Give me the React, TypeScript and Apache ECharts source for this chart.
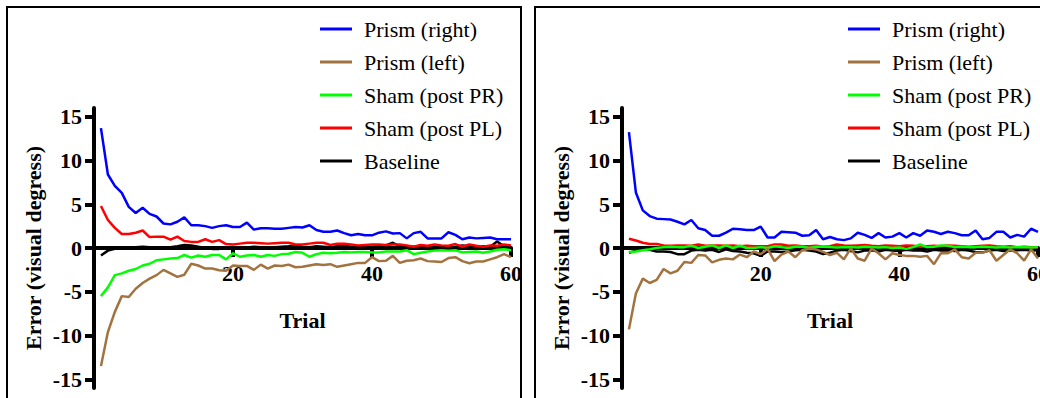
import React, { useEffect, useRef } from "react";
import * as echarts from "echarts";

const TRIALS = Array.from({ length: 60 }, (_, i) => i + 1);
const SERIES_NAMES = ["Prism (right)", "Prism (left)", "Sham (post PR)", "Sham (post PL)", "Baseline"];
const Y_TICKS = [-15, -10, -5, 0, 5, 10, 15];
const X_TICKS = [20, 40, 60];

// Left panel
const blueL = [13.7, 8.4, 7.1, 6.3, 4.7, 4.0, 4.6, 3.9, 3.6, 2.8, 2.7, 3.0, 3.5, 2.6, 2.6, 2.5, 2.3, 2.5, 2.6, 2.4, 2.4, 2.9, 2.1, 2.25, 2.25, 2.2, 2.2, 2.3, 2.4, 2.35, 2.6, 2.05, 1.85, 1.85, 2.0, 1.7, 1.45, 1.6, 1.45, 1.45, 1.75, 1.9, 1.65, 1.7, 1.1, 1.7, 1.85, 1.1, 1.1, 1.1, 1.8, 1.5, 1.0, 1.2, 1.1, 1.15, 1.2, 1.0, 1.0, 1.0];
const brownL = [-13.5, -9.6, -7.3, -5.5, -5.6, -4.65, -4.0, -3.5, -3.1, -2.5, -2.9, -3.3, -3.05, -1.8, -2.0, -2.35, -2.35, -2.55, -2.6, -2.0, -2.05, -2.05, -2.5, -1.9, -2.35, -2.0, -2.05, -1.9, -2.2, -2.15, -2.0, -1.85, -1.95, -1.85, -2.15, -2.0, -1.85, -1.7, -1.7, -1.05, -1.5, -1.45, -0.9, -1.7, -1.45, -1.4, -1.2, -1.5, -1.55, -1.6, -1.15, -1.05, -1.5, -1.75, -1.55, -1.55, -1.3, -1.05, -0.7, -1.05];
const greenL = [-5.5, -4.5, -3.1, -2.9, -2.6, -2.4, -2.0, -1.8, -1.4, -1.3, -1.2, -1.15, -0.8, -1.1, -0.85, -1.0, -0.8, -0.8, -1.3, -0.6, -1.0, -0.85, -0.8, -1.0, -0.8, -0.9, -0.7, -0.65, -0.45, -0.55, -1.0, -0.7, -0.55, -0.6, -0.55, -0.45, -0.5, -0.45, -0.45, -0.5, -0.5, -0.4, -0.4, -0.4, -0.25, -0.7, -0.55, -0.4, -0.3, -0.25, -0.3, -0.25, -0.5, -0.45, -0.4, -0.55, -0.4, -0.2, -0.15, -0.25];
const redL = [4.8, 3.2, 2.3, 1.6, 1.6, 1.75, 2.0, 1.25, 1.3, 1.3, 0.95, 1.3, 0.8, 0.7, 0.7, 1.0, 0.7, 0.9, 0.45, 0.4, 0.5, 0.6, 0.6, 0.55, 0.5, 0.55, 0.6, 0.6, 0.4, 0.4, 0.5, 0.6, 0.6, 0.35, 0.5, 0.5, 0.4, 0.3, 0.35, 0.4, 0.4, 0.35, 0.4, 0.4, 0.3, 0.15, 0.35, 0.25, 0.4, 0.3, 0.25, 0.45, 0.15, 0.4, 0.25, 0.15, 0.3, 0.25, 0.4, 0.3];
const blackL = [-0.85, -0.3, -0.1, 0.0, 0.05, 0.1, 0.15, 0.1, 0.1, 0.05, 0.1, 0.2, 0.35, 0.3, 0.15, 0.0, -0.1, -0.1, -0.05, 0.05, 0.1, 0.05, 0.15, 0.1, 0.0, 0.1, 0.15, 0.2, 0.3, 0.15, 0.1, 0.2, 0.15, 0.1, 0.2, 0.25, 0.15, 0.2, 0.1, 0.15, 0.2, 0.3, 0.6, 0.2, 0.1, 0.15, 0.2, 0.1, 0.15, 0.2, 0.1, 0.15, 0.3, 0.2, 0.1, 0.2, 0.15, 0.75, 0.2, 0.1];

// Right panel
const blueR = [13.25, 6.35, 4.3, 3.65, 3.35, 3.3, 3.25, 3.0, 2.7, 3.2, 2.25, 2.05, 1.4, 1.4, 1.75, 2.2, 2.15, 2.05, 2.05, 2.45, 1.2, 1.2, 1.85, 1.8, 1.75, 1.4, 1.45, 2.05, 1.0, 1.25, 1.0, 0.9, 1.1, 1.75, 1.5, 1.15, 1.7, 1.2, 1.3, 1.7, 1.2, 1.7, 1.4, 2.0, 1.85, 1.6, 1.85, 1.7, 1.45, 1.45, 2.0, 1.0, 1.15, 1.85, 1.85, 1.2, 1.5, 1.3, 2.2, 1.85];
const brownR = [-9.3, -5.2, -3.5, -4.0, -3.65, -2.4, -2.9, -2.6, -1.6, -1.7, -0.8, -0.85, -1.65, -1.35, -1.2, -1.3, -0.75, -1.05, -0.4, -0.7, -0.1, -1.5, -0.75, -0.4, -1.05, -0.25, -0.1, -0.15, -0.45, -0.8, -0.55, -1.3, -0.05, -1.2, -1.45, -0.05, -0.6, -1.3, -0.6, -0.8, -0.9, -0.9, -1.0, -0.9, -1.85, -0.6, -0.6, -0.15, -1.05, -1.2, -0.55, -0.55, -0.25, -1.45, -0.8, -0.15, -0.6, -1.45, -0.15, -1.2];
const greenR = [-0.45, -0.4, -0.25, -0.15, 0, 0.1, 0.15, 0.1, 0.1, 0.25, 0, 0.15, 0.3, 0, 0.3, 0, 0.25, 0, 0, 0.1, 0, 0.2, 0.1, 0, 0.15, 0.15, 0, 0.15, 0.15, 0.1, 0.05, 0.1, 0.1, 0.05, 0.15, 0.1, 0.05, 0.1, 0.0, 0.05, -0.1, 0.1, 0.4, 0.1, 0.15, 0.3, 0.25, 0.1, 0.15, 0.1, 0.1, 0.15, 0.1, 0.05, 0.1, 0.05, 0.1, 0.1, 0.05, 0.1];
const redR = [1.05, 0.85, 0.6, 0.45, 0.45, 0.3, 0.25, 0.3, 0.3, 0.25, 0.4, 0.25, 0.3, 0.3, 0.25, 0.3, 0.2, 0.25, 0.2, 0.2, 0.2, 0.4, 0.4, 0.25, 0.3, 0.2, 0.2, 0.25, 0.15, 0.2, 0.4, 0.3, 0.25, 0.3, 0.35, 0.25, 0.2, 0.3, 0.25, 0.2, 0.3, 0.25, 0.15, 0.2, 0.25, 0.2, 0.3, 0.25, 0.2, 0.15, 0.2, 0.25, 0.3, 0.2, 0.15, 0.2, 0.1, 0.15, 0.1, 0.1];
const blackR = [-0.55, -0.3, -0.15, -0.2, -0.4, -0.4, -0.45, -0.7, -0.7, -0.3, -0.2, -0.3, -0.2, -0.45, -0.15, -0.35, -0.4, -0.55, -0.6, -0.9, -0.4, -0.4, -0.45, -0.4, -0.25, -0.2, -0.3, -0.4, -0.7, -0.55, -0.3, -0.2, -0.35, -0.5, -0.3, -0.25, -0.4, -0.2, -0.3, -0.35, -0.2, -0.3, -0.25, -0.4, -0.2, -0.3, -0.25, -0.35, -0.2, -0.3, -0.45, -0.5, -0.3, -0.2, -0.35, -0.3, -0.25, -0.2, -0.3, -0.25];

const COLORS = {
  blue: "#0000ff",
  brown: "#a3733f",
  green: "#00ff00",
  red: "#ff0000",
  black: "#000000",
};

const FONT = "'Liberation Serif', 'Times New Roman', serif";
const Y_MIN = -16;
const Y_MAX = 16;
const GRID_TOP = 108;
const GRID_H = 280;
// pixel distance from grid bottom up to the y = 0 line
const ZERO_OFFSET = (GRID_H * (0 - Y_MIN)) / (Y_MAX - Y_MIN);

function line(name: string, vals: number[], color: string, g: number, z: number) {
  return {
    type: "line",
    name,
    xAxisIndex: g,
    yAxisIndex: g,
    data: vals.map((v, i) => [TRIALS[i], v]),
    showSymbol: false,
    symbol: "none",
    lineStyle: { color, width: 2.5 },
    itemStyle: { color },
    z,
  };
}

function xAxis(g: number) {
  return {
    type: "value",
    gridIndex: g,
    position: "bottom",
    offset: -ZERO_OFFSET,
    min: 0,
    max: 60,
    axisLine: { show: true, onZero: false, lineStyle: { color: "#000", width: 4 } },
    axisTick: { show: true, length: 9, customValues: X_TICKS, lineStyle: { color: "#000", width: 4 } },
    axisLabel: { customValues: X_TICKS, fontFamily: FONT, fontWeight: "bold", fontSize: 22, color: "#000", margin: 14 },
    splitLine: { show: false },
    name: "Trial",
    nameLocation: "middle",
    nameGap: 61,
    nameTextStyle: { fontFamily: FONT, fontWeight: "bold", fontSize: 22, color: "#000" },
  };
}

function yAxis(g: number) {
  return {
    type: "value",
    gridIndex: g,
    min: Y_MIN,
    max: Y_MAX,
    axisLine: { show: true, onZero: false, lineStyle: { color: "#000", width: 4 } },
    axisTick: { show: true, length: 9, customValues: Y_TICKS, lineStyle: { color: "#000", width: 4 } },
    axisLabel: { customValues: Y_TICKS, fontFamily: FONT, fontWeight: "bold", fontSize: 22, color: "#000", margin: 12 },
    splitLine: { show: false },
    name: "Error (visual degress)",
    nameLocation: "middle",
    nameRotate: 90,
    nameGap: 50,
    nameTextStyle: { fontFamily: FONT, fontWeight: "bold", fontSize: 22, color: "#000" },
  };
}

function legend(left: number) {
  return {
    data: SERIES_NAMES,
    orient: "vertical",
    left,
    top: 13,
    icon: "rect",
    itemWidth: 32,
    itemHeight: 3,
    itemGap: 11,
    selectedMode: false,
    textStyle: { fontFamily: FONT, fontSize: 22, color: "#000", lineHeight: 22, padding: [0, 0, 0, 7] },
  };
}

export default function App() {
  const ref = useRef<HTMLDivElement>(null);
  useEffect(() => {
    if (!ref.current) return;
    const chart = echarts.init(ref.current, null, { renderer: "svg" });
    const panels = [
      [blueL, brownL, greenL, redL, blackL],
      [blueR, brownR, greenR, redR, blackR],
    ];
    const series: any[] = [];
    panels.forEach((p, g) => {
      series.push(line(SERIES_NAMES[4], p[4], COLORS.black, g, 2));
      series.push(line(SERIES_NAMES[3], p[3], COLORS.red, g, 3));
      series.push(line(SERIES_NAMES[2], p[2], COLORS.green, g, 4));
      series.push(line(SERIES_NAMES[1], p[1], COLORS.brown, g, 5));
      series.push(line(SERIES_NAMES[0], p[0], COLORS.blue, g, 6));
    });
    chart.setOption({
      animation: false,
      backgroundColor: "#fff",
      grid: [
        { left: 94, top: GRID_TOP, width: 417, height: GRID_H, outerBoundsMode: "none", containLabel: false },
        { left: 622, top: GRID_TOP, width: 416, height: GRID_H, outerBoundsMode: "none", containLabel: false },
      ],
      xAxis: [xAxis(0), xAxis(1)],
      yAxis: [yAxis(0), yAxis(1)],
      legend: [legend(315), legend(843)],
      series,
      graphic: [
        { type: "rect", shape: { x: 7, y: 7, width: 514, height: 430 }, style: { fill: "none", stroke: "#000", lineWidth: 2 }, z: 10 },
        { type: "rect", shape: { x: 535, y: 7, width: 560, height: 430 }, style: { fill: "none", stroke: "#000", lineWidth: 2 }, z: 10 },
      ],
    });
    return () => chart.dispose();
  }, []);
  return (
    <div
      ref={ref}
      style={{ position: "absolute", left: 0, top: 0, width: 1040, height: 398, overflow: "hidden" }}
    />
  );
}
